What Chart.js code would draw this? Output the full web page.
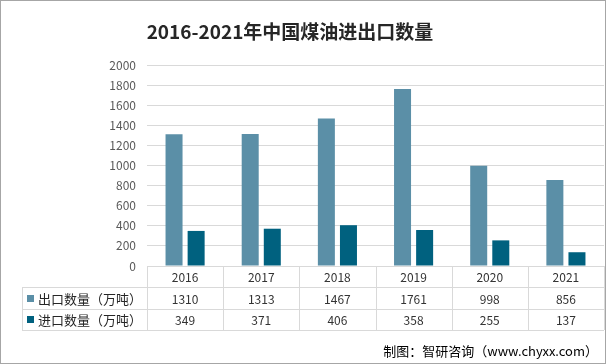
<!DOCTYPE html>
<html>
<head>
<meta charset="utf-8">
<script src="https://cdn.jsdelivr.net/npm/chart.js@4"></script>
<style>
  html, body { margin: 0; padding: 0; background: #fff; }
  #wrap { width: 606px; height: 364px; }
</style>
</head>
<body>
<div id="wrap"><canvas id="chart" width="606" height="364"></canvas></div>
<script>
const years = ["2016", "2017", "2018", "2019", "2020", "2021"];
const exportVals = [1310, 1313, 1467, 1761, 998, 856];
const importVals = [349, 371, 406, 358, 255, 137];
const seriesNames = ["出口数量（万吨）", "进口数量（万吨）"];
const yTickStep = 200;
const yMax = 2000;

const titleText = "2016-2021年中国煤油进出口数量";
const sourceText = "制图：智研咨询（www.chyxx.com）";

const FONT = "'Noto Sans CJK SC', 'Microsoft YaHei', sans-serif";
const colors = ["#5B8FA7", "#00617F"];

// 表格 + 标题 + 来源
const tablePlugin = {
    id: "tablePlugin",
    afterDraw(chart) {
        const ctx = chart.ctx;
        const area = chart.chartArea;
        const xs = chart.scales.x;
        const colW = (area.right - area.left) / years.length;
        const top = area.bottom;
        const rows = [top, top + 21, top + 43, top + 64];
        const tableLeft = 22;

        ctx.save();
        ctx.strokeStyle = "#d9d9d9";
        ctx.lineWidth = 1;
        ctx.beginPath();
        // horizontal lines
        ctx.moveTo(area.left, rows[0] + 0.5); ctx.lineTo(area.right, rows[0] + 0.5);
        for (let r = 1; r < rows.length; r++) {
            ctx.moveTo(tableLeft, rows[r] + 0.5); ctx.lineTo(area.right, rows[r] + 0.5);
        }
        // vertical lines
        ctx.moveTo(tableLeft + 0.5, rows[1]); ctx.lineTo(tableLeft + 0.5, rows[3]);
        for (let i = 0; i <= years.length; i++) {
            const x = Math.round(area.left + i * colW) + 0.5;
            ctx.moveTo(x, rows[0]); ctx.lineTo(x, rows[3]);
        }
        ctx.stroke();

        ctx.textBaseline = "middle";
        ctx.textAlign = "center";
        ctx.fillStyle = "#333";
        ctx.font = "12px " + FONT;
        years.forEach((y, i) => {
            ctx.fillText(y, xs.getPixelForValue(i), (rows[0] + rows[1]) / 2 + 1);
        });
        [exportVals, importVals].forEach((vals, r) => {
            const cy = (rows[r + 1] + rows[r + 2]) / 2 + 1;
            vals.forEach((v, i) => {
                ctx.fillText(String(v), xs.getPixelForValue(i), cy);
            });
        });

        // legend keys
        ctx.textAlign = "left";
        ctx.font = "13px " + FONT;
        seriesNames.forEach((name, r) => {
            const cy = (rows[r + 1] + rows[r + 2]) / 2;
            ctx.fillStyle = colors[r];
            ctx.fillRect(27, Math.round(cy - 3.5), 7, 7);
            ctx.fillStyle = "#262626";
            ctx.fillText(name, 38, cy + 1);
        });

        // title
        ctx.textAlign = "center";
        ctx.fillStyle = "#262626";
        ctx.font = "bold 19px " + FONT;
        ctx.fillText(titleText, 290, 32);

        // source
        ctx.textAlign = "right";
        ctx.fillStyle = "#000";
        ctx.font = "13px " + FONT;
        ctx.fillText(sourceText, 598, 351);

        // border
        ctx.strokeStyle = "#a6a6a6";
        ctx.strokeRect(0.5, 0.5, 605, 363);
        ctx.restore();
    }
};

new Chart(document.getElementById("chart"), {
    type: "bar",
    data: {
        labels: years,
        datasets: [
            { label: seriesNames[0], data: exportVals, backgroundColor: colors[0] },
            { label: seriesNames[1], data: importVals, backgroundColor: colors[1] }
        ]
    },
    options: {
        responsive: false,
        animation: false,
        layout: { padding: { top: 65, right: 2, left: 0, bottom: 0 } },
        datasets: {
            bar: { categoryPercentage: 0.58, barPercentage: 0.77 }
        },
        scales: {
            x: {
                grid: { display: false },
                border: { display: false },
                ticks: { display: false },
                afterFit: scale => { scale.height = 98; }
            },
            y: {
                min: 0,
                max: yMax,
                ticks: {
                    stepSize: yTickStep,
                    padding: 11,
                    color: "#595959",
                    font: { size: 12, family: FONT },
                    callback: v => String(v)
                },
                grid: { color: "#d9d9d9", drawTicks: false },
                border: { display: false },
                afterFit: scale => { scale.width = 147; }
            }
        },
        plugins: {
            legend: { display: false },
            tooltip: { enabled: false }
        }
    },
    plugins: [tablePlugin]
});
</script>
</body>
</html>
